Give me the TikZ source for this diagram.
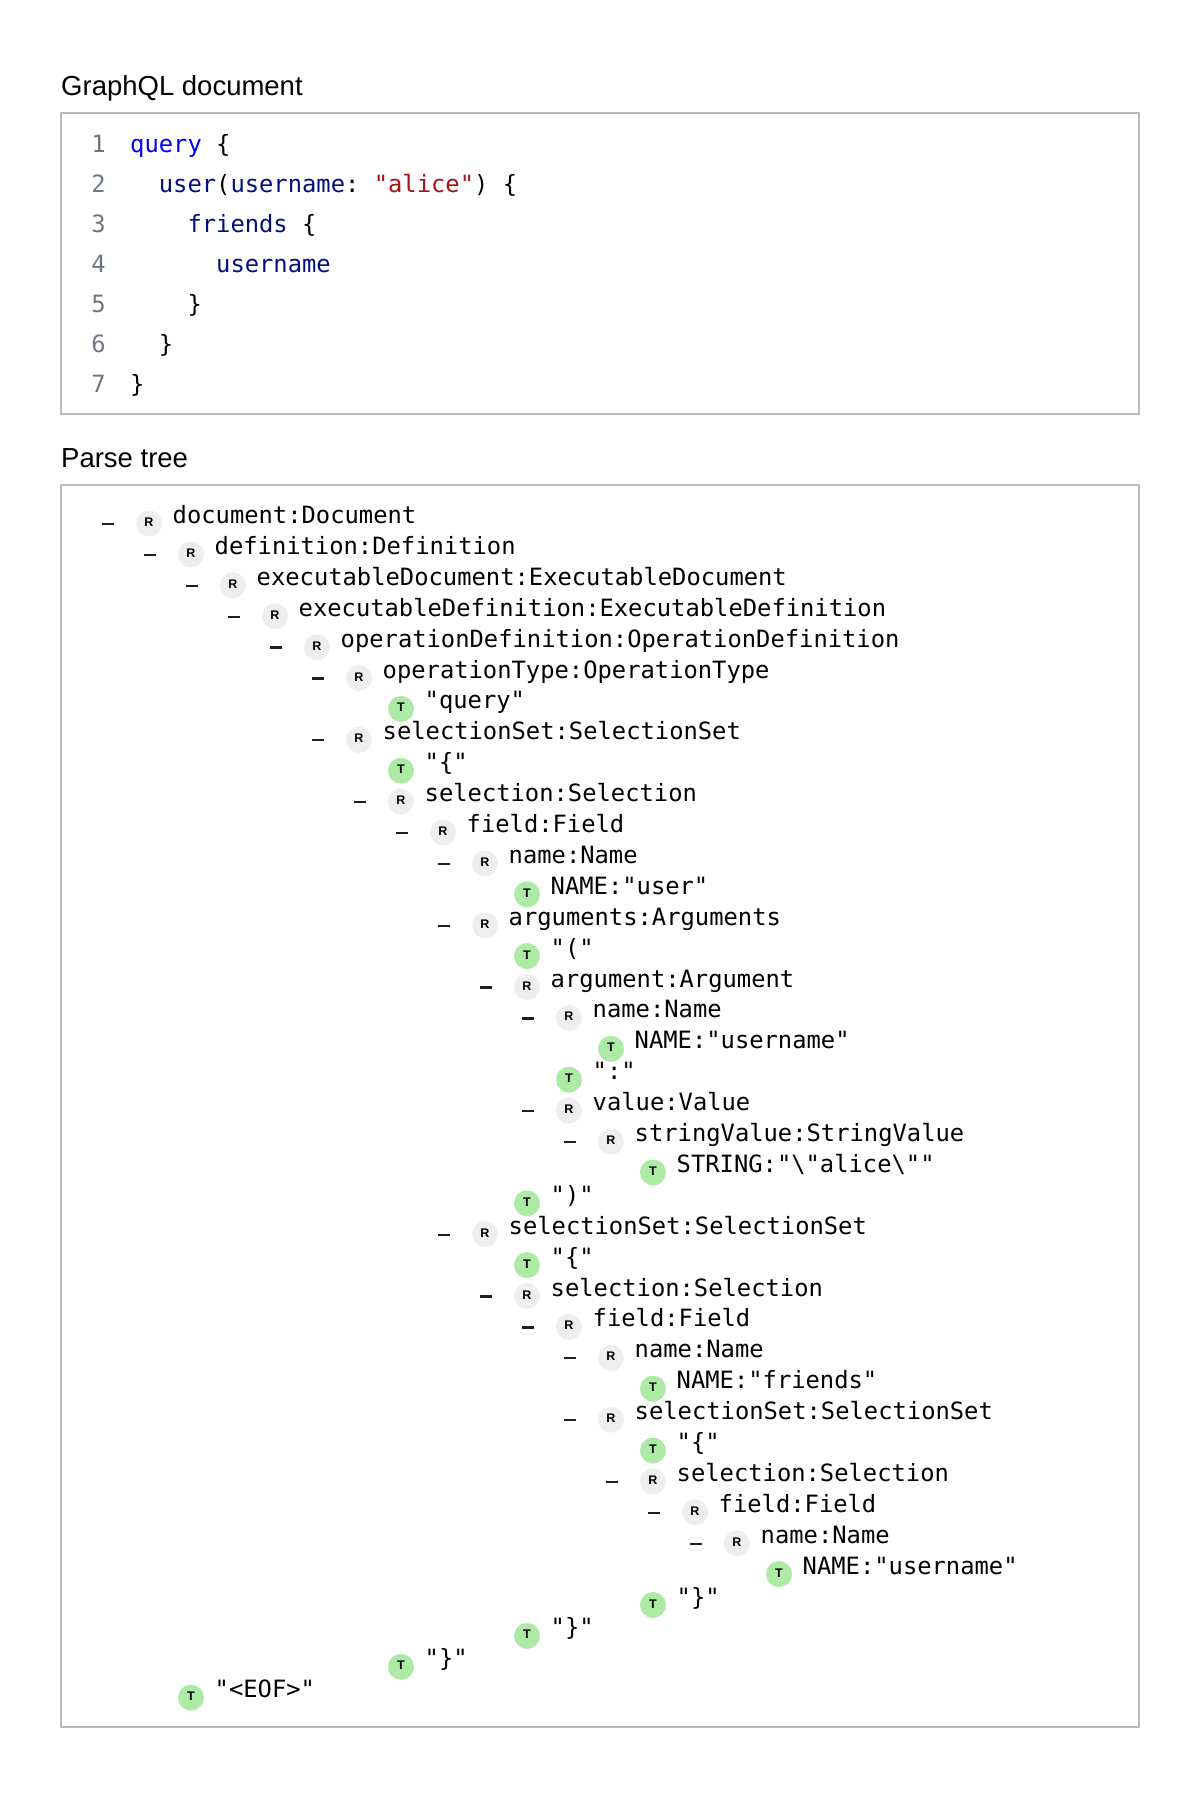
\documentclass[tikz,border=0pt]{standalone}
\usepackage{fontspec}
\setmainfont{Liberation Sans}
\setsansfont{Liberation Sans}
\setmonofont{DejaVu Sans Mono}
\usetikzlibrary{positioning}
\usetikzlibrary{calc}

\definecolor{boxgray}{RGB}{187,187,187}
\definecolor{rulegray}{RGB}{238,238,238}
\definecolor{tokengreen}{RGB}{172,234,166}
\definecolor{kwblue}{RGB}{0,0,255}
\definecolor{varblue}{RGB}{0,16,128}
\definecolor{strred}{RGB}{163,21,21}
\definecolor{lnumgray}{RGB}{110,118,129}

\newcommand\gqlkw[1]{\textcolor{kwblue}{#1}}
\newcommand\gqlvar[1]{\textcolor{varblue}{#1}}
\newcommand\gqlstr[1]{\textcolor{strred}{#1}}

\begin{document}
\begin{tikzpicture}[x=1pt, y=-1pt,
		heading/.style={anchor=base west, inner sep=0, font=\fontsize{27.5}{33}\selectfont},
		panel/.style={draw=boxgray, line width=2pt},
		codeline/.style={anchor=base west, inner sep=0, font=\ttfamily\fontsize{23.8}{28}\selectfont},
		lnum/.style={anchor=base east, inner sep=0, text=lnumgray, font=\ttfamily\fontsize{23.8}{28}\selectfont},
		R badge/.style={circle, fill=rulegray, minimum size=26pt, inner sep=0, text depth=2.5pt, font=\sffamily\bfseries\fontsize{12.5}{12.5}\selectfont},
		T badge/.style={circle, fill=tokengreen, minimum size=26pt, inner sep=0, text depth=2.5pt, font=\sffamily\bfseries\fontsize{12.5}{12.5}\selectfont},
		rulename/.style={anchor=base west, inner sep=0, font=\ttfamily\fontsize{23.8}{28}\selectfont},
		dashmark/.style={rectangle, fill=black!88, minimum width=12pt, minimum height=2.3pt, inner sep=0, yshift=-0.5pt}]
		\useasboundingbox (0,0) rectangle (1200,1796);

		% source panel
		\node[heading] (srctitle) at (61,95) {GraphQL document};
		\draw[panel] (61,113) rectangle (1139,414);
		\foreach \ind/\code [count=\i] in {0/{\gqlkw{query} \{}, 2/{\gqlvar{user}(\gqlvar{username}: \gqlstr{"alice"}) \{}, 4/{\gqlvar{friends} \{}, 6/{\gqlvar{username}}, 4/{\}}, 2/{\}}, 0/{\}}}
		{
			\node[lnum] (ln\i) at (106, {152+40*(\i-1)}) {\i};
			\node[codeline] (c\i) at ({130+14.33*\ind}, {152+40*(\i-1)}) {\code};
		}

		% parse tree panel
		\node[heading] (treetitle) at (61,467) {Parse tree};
		\draw[panel] (61,485) rectangle (1139,1727);
		\foreach \lvl/\kind/\txt [count=\row] in {
			0/R/{document:Document},
			1/R/{definition:Definition},
			2/R/{executableDocument:ExecutableDocument},
			3/R/{executableDefinition:ExecutableDefinition},
			4/R/{operationDefinition:OperationDefinition},
			5/R/{operationType:OperationType},
			6/T/{"query"},
			5/R/{selectionSet:SelectionSet},
			6/T/{"\{"},
			6/R/{selection:Selection},
			7/R/{field:Field},
			8/R/{name:Name},
			9/T/{NAME:"user"},
			8/R/{arguments:Arguments},
			9/T/{"("},
			9/R/{argument:Argument},
			10/R/{name:Name},
			11/T/{NAME:"username"},
			10/T/{":"},
			10/R/{value:Value},
			11/R/{stringValue:StringValue},
			12/T/{STRING:"\textbackslash"alice\textbackslash""},
			9/T/{")"},
			8/R/{selectionSet:SelectionSet},
			9/T/{"\{"},
			9/R/{selection:Selection},
			10/R/{field:Field},
			11/R/{name:Name},
			12/T/{NAME:"friends"},
			11/R/{selectionSet:SelectionSet},
			12/T/{"\{"},
			12/R/{selection:Selection},
			13/R/{field:Field},
			14/R/{name:Name},
			15/T/{NAME:"username"},
			12/T/{"\}"},
			9/T/{"\}"},
			6/T/{"\}"},
			1/T/{"<EOF>"}}
		{
			\node[\kind\space badge] (b\row) at ({149+42*\lvl}, {523.5+30.9*(\row-1)}) {\kind};
			\node[rulename] (n\row) at ([xshift=23.5pt]b\row.center) {\txt};
			\if R\kind
				\node[dashmark] (d\row) at ([xshift=-41pt]b\row.center) {};
			\fi
		}
\end{tikzpicture}
\end{document}
